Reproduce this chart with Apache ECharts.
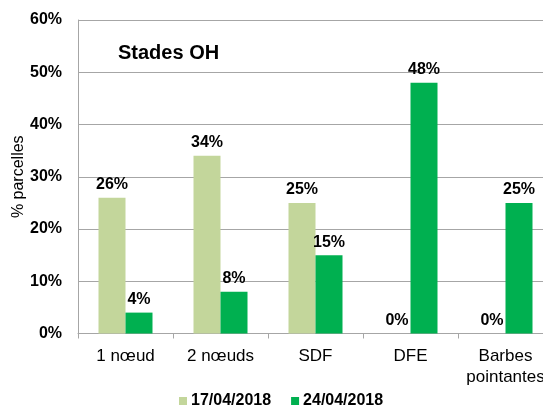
<!DOCTYPE html>
<html>
<head>
<meta charset="utf-8">
<script src="https://cdn.jsdelivr.net/npm/echarts@6/dist/echarts.min.js"></script>
<style>
html,body{margin:0;padding:0;background:#fff}
#chart{width:543px;height:409px}
</style>
</head>
<body>
<div id="chart"></div>
<script>
let categories = ["1 nœud","2 nœuds","SDF","DFE","Barbes\npointantes"]
let serie1 = [26,34,25,0,0]
let serie2 = [4,8,15,48,25]
let seriesNames = ["17/04/2018","24/04/2018"]
let yTicks = [0,10,20,30,40,50,60]

let chart = echarts.init(document.getElementById("chart"))
let font = "Liberation Sans, Arial, sans-serif"

let labelStyle = {
    show:true,
    position:"top",
    distance:5,
    formatter:p=>p.value+"%",
    fontFamily:font,
    fontSize:16,
    fontWeight:"bold",
    color:"#000"
}

chart.setOption({
    animation:false,
    title:{
        text:"Stades OH",
        left:113,
        top:38,
        textStyle:{fontFamily:font,fontSize:20,fontWeight:"bold",color:"#000"}
    },
    legend:{
        data:seriesNames,
        top:393,
        left:179,
        padding:0,
        itemWidth:8,
        itemHeight:8,
        itemGap:20,
        icon:"rect",
        textStyle:{fontFamily:font,fontSize:16,fontWeight:"bold",color:"#000",padding:[0,0,0,-1]}
    },
    grid:{left:78,right:-10,top:20,bottom:75.5,containLabel:false,outerBoundsMode:"none"},
    xAxis:{
        type:"category",
        data:categories,
        axisLine:{lineStyle:{color:"#A6A6A6"}},
        axisTick:{show:true,length:5,lineStyle:{color:"#A6A6A6"}},
        axisLabel:{interval:0,fontFamily:font,fontSize:17,color:"#000",margin:12,lineHeight:21}
    },
    yAxis:{
        type:"value",
        min:yTicks[0],
        max:yTicks[yTicks.length-1],
        interval:10,
        name:"% parcelles",
        nameLocation:"middle",
        nameGap:51,
        nameRotate:90,
        nameMoveOverlap:false,
        nameTextStyle:{fontFamily:font,fontSize:16,color:"#000"},
        axisLine:{show:true,lineStyle:{color:"#A6A6A6"}},
        axisTick:{show:false},
        splitLine:{lineStyle:{color:"#A6A6A6"}},
        axisLabel:{formatter:v=>v+"%",fontFamily:font,fontSize:16,fontWeight:"bold",color:"#000",margin:16}
    },
    series:[
        {name:seriesNames[0],type:"bar",data:serie1,barWidth:27,barGap:"0%",
         itemStyle:{color:"#C3D69B"},label:labelStyle},
        {name:seriesNames[1],type:"bar",data:serie2,barWidth:27,barGap:"0%",
         itemStyle:{color:"#00B050"},label:labelStyle}
    ]
})
</script>
</body>
</html>
